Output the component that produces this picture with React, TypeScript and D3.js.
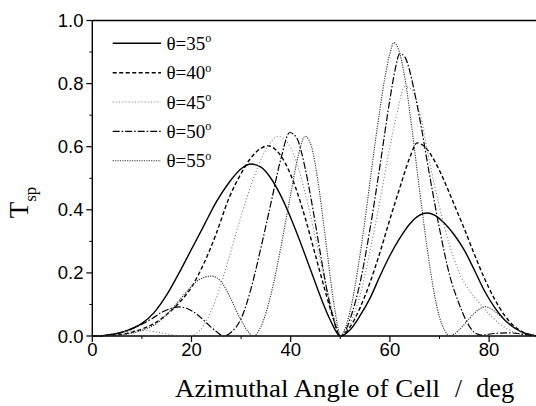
import React from "react";
import * as d3 from "d3";

const xTicks = [0, 20, 40, 60, 80];
const xMinor = [10, 30, 50, 70, 90];
const yTicks = [0, 0.2, 0.4, 0.6, 0.8, 1.0];
const yMinor = [0.1, 0.3, 0.5, 0.7, 0.9];

const s35: [number, number][] = [[0,0],[2.5,0.002],[5,0.008],[7.5,0.02],[10,0.04],[12.5,0.075],[15,0.13],[17.5,0.2],[20,0.275],[22.5,0.35],[25,0.425],[27.5,0.485],[30,0.53],[32,0.545],[34,0.535],[36,0.5],[38,0.445],[40,0.375],[42,0.295],[44,0.21],[46,0.125],[48,0.05],[50,0],[52,0.02],[54,0.065],[56,0.12],[58,0.19],[60,0.255],[62,0.31],[64,0.355],[66,0.383],[67.5,0.39],[69,0.383],[71,0.357],[73,0.32],[75,0.272],[77,0.21],[79,0.145],[81,0.093],[83,0.053],[85,0.027],[87,0.01],[89,0.002],[90,0]];
const s40: [number, number][] = [[0,0],[5,0.004],[10,0.022],[12.5,0.04],[15,0.068],[17.5,0.105],[20,0.155],[22.5,0.23],[25,0.325],[27.5,0.435],[30,0.515],[32,0.565],[34,0.595],[35.5,0.603],[37,0.59],[39,0.545],[41,0.47],[43,0.37],[45,0.255],[47,0.14],[48.5,0.06],[50,0],[52,0.03],[54,0.09],[56,0.17],[58,0.265],[60,0.37],[62,0.47],[64,0.565],[65.5,0.612],[67,0.6],[69,0.555],[71,0.49],[73,0.415],[75,0.34],[77,0.26],[79,0.185],[81,0.12],[83,0.068],[85,0.032],[87,0.011],[89,0.002],[90,0]];
const s45: [number, number][] = [[0,0],[3,0.004],[6,0.012],[9,0.018],[12,0.015],[15,0.007],[18,0.001],[20,0.002],[22.5,0.035],[25,0.12],[27.5,0.245],[30,0.38],[32.5,0.5],[35,0.59],[37.5,0.633],[39.5,0.61],[41.5,0.535],[43.5,0.415],[45.5,0.275],[47.5,0.135],[49,0.045],[50,0],[52,0.04],[54,0.13],[56,0.27],[58,0.43],[60,0.6],[61.5,0.71],[63,0.79],[64.5,0.78],[66,0.71],[68,0.55],[70,0.41],[72,0.29],[74,0.2],[76,0.145],[78,0.105],[80,0.07],[82,0.04],[84,0.02],[86,0.008],[88,0.002],[90,0]];
const s50: [number, number][] = [[0,0],[3,0.003],[6,0.012],[9,0.03],[12,0.055],[14,0.075],[16,0.088],[17.5,0.092],[19,0.088],[21,0.07],[23,0.042],[25,0.014],[26.5,0],[28,0.012],[30,0.055],[32,0.15],[34,0.28],[36,0.42],[38,0.56],[39.8,0.645],[41.3,0.625],[42.8,0.54],[44.5,0.4],[46,0.26],[47.5,0.13],[49,0.035],[50,0],[51,0.015],[52,0.055],[54,0.17],[56,0.34],[58,0.54],[60,0.75],[61,0.84],[62,0.895],[63,0.885],[64,0.84],[65,0.77],[66,0.69],[68,0.51],[70,0.34],[72,0.195],[74,0.1],[75.5,0.045],[77,0.012],[78.5,0.003],[81,0.008],[84,0.01],[87,0.005],[90,0]];
const s55: [number, number][] = [[0,0],[5,0.003],[10,0.018],[13,0.04],[16,0.085],[19,0.14],[21.5,0.178],[24,0.19],[26,0.172],[28,0.115],[30,0.05],[31.5,0.012],[32.5,0],[34,0.03],[36,0.13],[38,0.28],[40,0.45],[41.5,0.57],[42.9,0.633],[44.2,0.6],[45.5,0.49],[47,0.31],[48.5,0.125],[49.5,0.03],[50,0],[51,0.025],[52,0.08],[53,0.16],[54,0.26],[55,0.37],[56,0.49],[57,0.61],[58,0.72],[59,0.82],[60,0.895],[60.8,0.93],[61.7,0.91],[63,0.82],[64.5,0.65],[66,0.46],[67.5,0.28],[69,0.13],[70,0.06],[71,0.02],[72,0],[74,0.02],[76,0.055],[78,0.085],[79.2,0.093],[81,0.08],[83,0.052],[85,0.026],[87,0.009],[89,0.002],[90,0]];

const seriesLabels = ["35", "40", "45", "50", "55"];
const seriesData = [s35, s40, s45, s50, s55];
const seriesStyle = [
  { stroke: "#000", width: 1.4, dash: "" },
  { stroke: "#000", width: 1.4, dash: "4,2.5" },
  { stroke: "#777", width: 1.1, dash: "1,2.2" },
  { stroke: "#000", width: 1.2, dash: "7,2,1.5,2" },
  { stroke: "#333", width: 1.1, dash: "1.2,1.2" },
];

export default function App() {
  const x = d3.scaleLinear().domain([0, 90]).range([92.3, 538.7]);
  const y = d3.scaleLinear().domain([0, 1]).range([336, 20.5]);
  const line = d3
    .line<[number, number]>()
    .x((d) => x(d[0]))
    .y((d) => y(d[1]))
    .curve(d3.curveMonotoneX);
  const legendY = [43.3, 72.7, 102, 131.3, 160.7];
  const sans = "'Liberation Sans', Arial, sans-serif";
  const serif = "'Liberation Serif', 'Times New Roman', serif";
  return (
    <svg
      width={536}
      height={406}
      style={{ position: "absolute", left: 0, top: 0, background: "#fff" }}
    >
      <rect x={0} y={0} width={536} height={406} fill="#fff" />
      {/* frame */}
      <line x1={x(0)} x2={x(90)} y1={y(1)} y2={y(1)} stroke="#000" strokeWidth={1.6} />
      <line x1={x(90)} x2={x(90)} y1={y(1)} y2={y(0)} stroke="#000" strokeWidth={1.6} />
      <line x1={x(0)} x2={x(0)} y1={y(1)} y2={y(0)} stroke="#000" strokeWidth={1.4} />
      <line x1={x(0)} x2={x(90)} y1={y(0)} y2={y(0)} stroke="#000" strokeWidth={1.4} />
      {yTicks.map((t) => (
        <g key={"y" + t}>
          <line x1={x(0) - 6} x2={x(0)} y1={y(t)} y2={y(t)} stroke="#000" strokeWidth={1.2} />
          <text x={83.5} y={y(t) + 6.5} textAnchor="end" fontFamily={sans} fontSize={18.5} fill="#000">
            {t.toFixed(1)}
          </text>
        </g>
      ))}
      {yMinor.map((t) => (
        <line key={"ym" + t} x1={x(0) - 3} x2={x(0)} y1={y(t)} y2={y(t)} stroke="#000" strokeWidth={1} />
      ))}
      {xTicks.map((t) => (
        <g key={"x" + t}>
          <line x1={x(t)} x2={x(t)} y1={y(0)} y2={y(0) + 6} stroke="#000" strokeWidth={1.2} />
          <text x={x(t)} y={356} textAnchor="middle" fontFamily={sans} fontSize={18.5} fill="#000">
            {t}
          </text>
        </g>
      ))}
      {xMinor.map((t) => (
        <line key={"xm" + t} x1={x(t)} x2={x(t)} y1={y(0)} y2={y(0) + 3} stroke="#000" strokeWidth={1} />
      ))}
      {/* curves */}
      {seriesData.map((s, i) => (
        <path
          key={"s" + i}
          d={line(s) || ""}
          fill="none"
          stroke={seriesStyle[i].stroke}
          strokeWidth={seriesStyle[i].width}
          strokeDasharray={seriesStyle[i].dash}
        />
      ))}
      {/* legend */}
      {seriesLabels.map((lab, i) => (
        <g key={"l" + i}>
          <line
            x1={112.7}
            x2={161}
            y1={legendY[i]}
            y2={legendY[i]}
            stroke={seriesStyle[i].stroke}
            strokeWidth={seriesStyle[i].width}
            strokeDasharray={seriesStyle[i].dash}
          />
          <text x={166.5} y={legendY[i] + 6.5} fontFamily={serif} fontSize={19} fill="#000">
            {"θ=" + lab}
            <tspan fontSize={12} dy={-7.5}>o</tspan>
          </text>
        </g>
      ))}
      {/* axis titles */}
      <text y={396.7} fontFamily={serif} fontSize={25} fill="#000">
        <tspan x={175} textLength={265} lengthAdjust="spacingAndGlyphs">Azimuthal Angle of Cell</tspan>
        <tspan x={455}>/</tspan>
        <tspan x={476} fontSize={26.5}>deg</tspan>
      </text>
      <text transform="translate(28,218.3) rotate(-90)" fontFamily={serif} fontSize={27} fill="#000">
        T<tspan fontSize={17} dy={8}>sp</tspan>
      </text>
    </svg>
  );
}
